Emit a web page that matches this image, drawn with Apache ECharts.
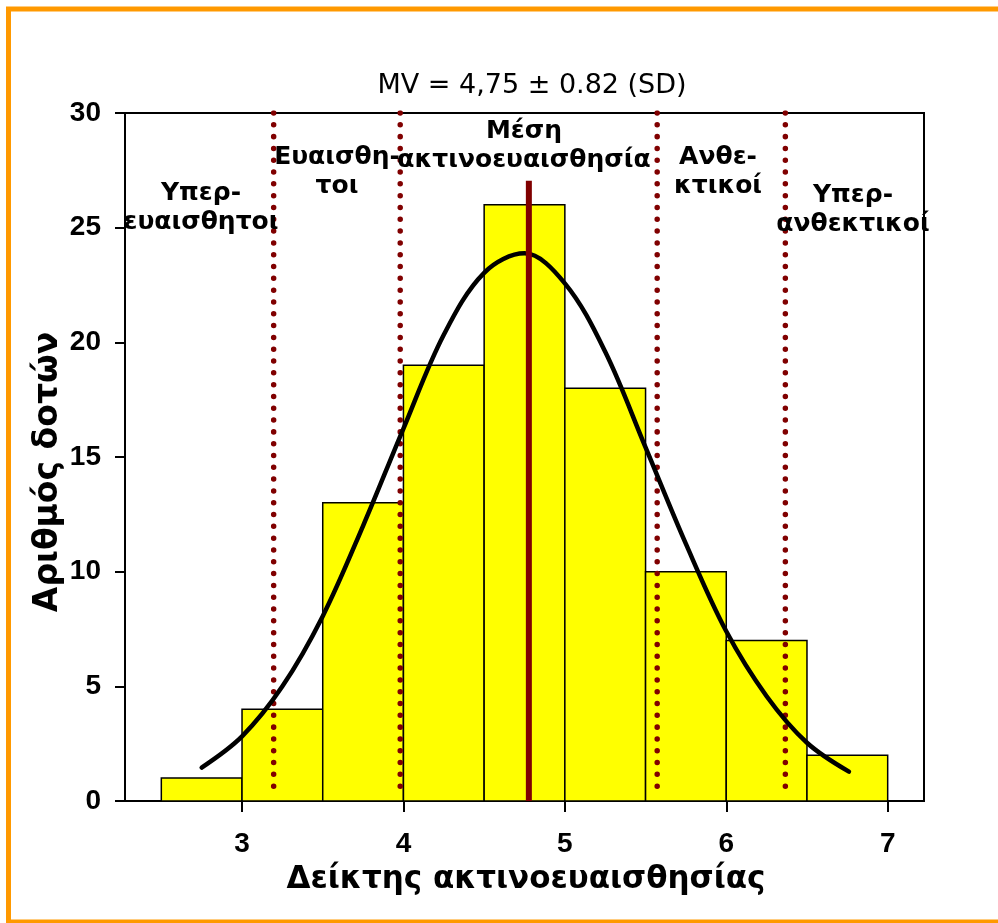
<!DOCTYPE html>
<html>
<head>
<meta charset="utf-8">
<script src="https://cdn.jsdelivr.net/npm/echarts@6/dist/echarts.min.js"></script>
<style>
html,body{margin:0;padding:0;background:#fff;}
#chart{width:998px;height:923px;}
</style>
</head>
<body>
<div id="chart"></div>
<script>
// ---- data ----
const binStart = [2.5, 3.0, 3.5, 4.0, 4.5, 5.0, 5.5, 6.0, 6.5];
const binEnd   = [3.0, 3.5, 4.0, 4.5, 5.0, 5.5, 6.0, 6.5, 7.0];
const counts   = [1, 4, 13, 19, 26, 18, 10, 7, 2];

// fitted curve, points
const curveX = [2.75, 3.0, 3.25, 3.5, 3.75, 4.0, 4.25, 4.5, 4.75, 5.0, 5.25, 5.5, 5.75, 6.0, 6.25, 6.5, 6.76];
const curveY = [1.46, 2.82, 5.0, 8.06, 12.0, 16.24, 20.33, 23.03, 23.88, 22.57, 19.59, 15.42, 11.21, 7.40, 4.57, 2.54, 1.28];

const boundaryX = [3.196, 3.98, 5.572, 6.366];
const meanX = 4.777;
const meanTop = 27.05;

const xTickLabels = [3, 4, 5, 6, 7];

const titleText = 'MV = 4,75 ± 0.82 (SD)';
const xTitle = 'Δείκτης ακτινοευαισθησίας';
const yTitle = 'Αριθμός δοτών';
const zoneLabels = [
  'Υπερ-\nευαισθητοι',
  'Ευαισθη-\nτοι',
  'Μέση\nακτινοευαισθησία',
  'Ανθε-\nκτικοί',
  'Υπερ-\nανθεκτικοί'
];

// ---- build chart ----
const chart = echarts.init(document.getElementById('chart'), null, {renderer: 'canvas'});

const histData = binStart.map((s, i) => [s, binEnd[i], counts[i]]);
const curveData = curveX.map((x, i) => [x, curveY[i]]);

const series = [];
series.push({
  type: 'custom',
  silent: true,
  z: 2,
  data: histData,
  encode: {x: [0, 1], y: 2},
  renderItem: function (params, api) {
    const p0 = api.coord([api.value(0), 0]);
    const p1 = api.coord([api.value(1), api.value(2)]);
    return {
      type: 'rect',
      shape: {x: p0[0], y: p1[1], width: p1[0] - p0[0], height: p0[1] - p1[1]},
      style: {fill: '#ffff00', stroke: '#000000', lineWidth: 1.5}
    };
  }
});
boundaryX.forEach(function (bx) {
  series.push({
    type: 'line',
    silent: true,
    z: 3,
    showSymbol: false,
    symbol: 'none',
    data: [[bx, 30], [bx, 0.15]],
    lineStyle: {color: '#800000', width: 5.5, type: [0.01, 11.8], cap: 'round'}
  });
});
series.push({
  type: 'line',
  silent: true,
  z: 4,
  symbol: 'none',
  smooth: 0.35,
  data: curveData,
  lineStyle: {color: '#000000', width: 4.5, cap: 'round'}
});
series.push({
  type: 'line',
  silent: true,
  z: 5,
  symbol: 'none',
  data: [[meanX, 0], [meanX, meanTop]],
  lineStyle: {color: '#800000', width: 6}
});

const annFont = 'bold 25px "DejaVu Sans"';
const annPos = [[201, 208], [337, 172], [524, 146], [718, 172], [853, 210]];

const graphics = [
  {
    type: 'rect', silent: true, z: 100,
    shape: {x: 8.5, y: 9, width: 1000, height: 913},
    style: {fill: 'none', stroke: '#ff9900', lineWidth: 5}
  },
  {
    type: 'text', silent: true, z: 100, x: 532, y: 86,
    style: {text: titleText, font: '27px "DejaVu Sans"', fill: '#000', align: 'center', verticalAlign: 'middle'}
  },
  {
    type: 'text', silent: true, z: 100, x: 526, y: 880,
    style: {text: xTitle, font: 'bold 31px "DejaVu Sans"', fill: '#000', align: 'center', verticalAlign: 'middle'}
  },
  {
    type: 'text', silent: true, z: 100, x: 48, y: 472, rotation: Math.PI / 2,
    style: {text: yTitle, font: 'bold 33px "DejaVu Sans"', fill: '#000', align: 'center', verticalAlign: 'middle'}
  }
];
zoneLabels.forEach(function (t, i) {
  graphics.push({
    type: 'text', silent: true, z: 100, x: annPos[i][0], y: annPos[i][1],
    style: {text: t, font: annFont, fill: '#000', align: 'center', verticalAlign: 'middle', lineHeight: 29}
  });
});

chart.setOption({
  animation: false,
  backgroundColor: '#ffffff',
  grid: {left: 125, right: 74, top: 113, bottom: 122, show: true, borderColor: '#000', borderWidth: 2, containLabel: false},
  xAxis: {
    type: 'value',
    min: 2.275,
    max: 7.225,
    splitLine: {show: false},
    axisLine: {show: true, onZero: false, lineStyle: {color: '#000', width: 2}},
    axisTick: {show: true, customValues: xTickLabels, length: 11, lineStyle: {color: '#000', width: 2}},
    axisLabel: {customValues: xTickLabels, margin: 29, color: '#000', fontSize: 28, fontWeight: 'bold', fontFamily: '"Liberation Sans", Arial, sans-serif'}
  },
  yAxis: {
    type: 'value',
    min: 0,
    max: 30,
    interval: 5,
    splitLine: {show: false},
    axisLine: {show: true, lineStyle: {color: '#000', width: 2}},
    axisTick: {show: true, length: 10, lineStyle: {color: '#000', width: 2}},
    axisLabel: {margin: 24, color: '#000', fontSize: 28, fontWeight: 'bold', fontFamily: '"Liberation Sans", Arial, sans-serif'}
  },
  series: series,
  graphic: graphics
});
</script>
</body>
</html>
